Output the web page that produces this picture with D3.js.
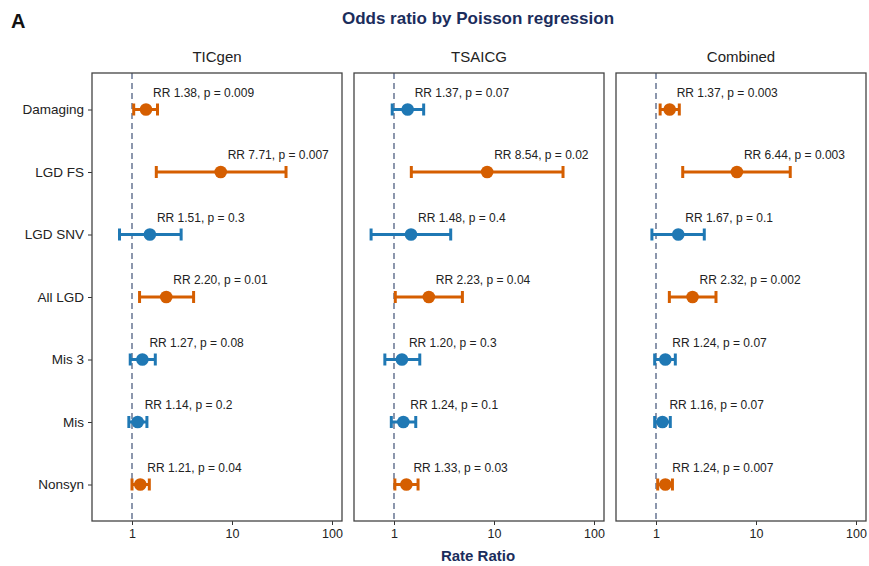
<!DOCTYPE html>
<html>
<head>
<meta charset="utf-8">
<script src="https://cdn.jsdelivr.net/npm/d3@7"></script>
<style>
  html, body { margin: 0; padding: 0; background: #fff; }
  svg { display: block; font-family: "Liberation Sans", Arial, Helvetica, sans-serif; }
</style>
</head>
<body>
<svg id="chart" width="869" height="566"></svg>
<script>
// ---------- data ----------
const categories = ["Damaging", "LGD FS", "LGD SNV", "All LGD", "Mis 3", "Mis", "Nonsyn"];
const panels = ["TICgen", "TSAICG", "Combined"];

const ticgenRR = [1.38, 7.71, 1.51, 2.20, 1.27, 1.14, 1.21];
const ticgenLo = [1.04, 1.75, 0.75, 1.19, 0.96, 0.93, 1.00];
const ticgenHi = [1.80, 34.7, 3.10, 4.13, 1.71, 1.41, 1.49];
const ticgenP  = ["0.009", "0.007", "0.3", "0.01", "0.08", "0.2", "0.04"];

const tsaicgRR = [1.37, 8.54, 1.48, 2.23, 1.20, 1.24, 1.33];
const tsaicgLo = [0.96, 1.49, 0.59, 1.03, 0.81, 0.94, 1.02];
const tsaicgHi = [1.98, 49.0, 3.69, 4.83, 1.81, 1.65, 1.74];
const tsaicgP  = ["0.07", "0.02", "0.4", "0.04", "0.3", "0.1", "0.03"];

const combRR = [1.37, 6.44, 1.67, 2.32, 1.24, 1.16, 1.24];
const combLo = [1.10, 1.85, 0.91, 1.36, 0.97, 0.97, 1.04];
const combHi = [1.71, 22.0, 3.04, 3.98, 1.56, 1.39, 1.46];
const combP  = ["0.003", "0.003", "0.1", "0.002", "0.07", "0.07", "0.007"];

const xTicks = [1, 10, 100];

const panelData = [
  {name: panels[0], rr: ticgenRR, lo: ticgenLo, hi: ticgenHi, p: ticgenP},
  {name: panels[1], rr: tsaicgRR, lo: tsaicgLo, hi: tsaicgHi, p: tsaicgP},
  {name: panels[2], rr: combRR,   lo: combLo,   hi: combHi,   p: combP}
];

// ---------- layout ----------
const ORANGE = "#D55E00";
const BLUE = "#1F78B4";
const NAVY = "#1B2D5C";
const panelLeft = [92, 354, 616];
const panelW = 250;
const plotTop = 73, plotBottom = 521;

const svg = d3.select("#chart");

svg.append("text").attr("x", 11).attr("y", 28)
  .attr("font-size", 20).attr("font-weight", "bold").attr("fill", "#111").text("A");

svg.append("text").attr("x", 478).attr("y", 24).attr("text-anchor", "middle")
  .attr("font-size", 17).attr("font-weight", "bold").attr("fill", NAVY)
  .text("Odds ratio by Poisson regression");

svg.append("text").attr("x", 478).attr("y", 561).attr("text-anchor", "middle")
  .attr("font-size", 15).attr("font-weight", "bold").attr("fill", NAVY)
  .text("Rate Ratio");

const y = d3.scalePoint().domain(categories).range([plotTop, plotBottom]).padding(0.584);

panelData.forEach((pd, pi) => {
  const left = panelLeft[pi];
  const x = d3.scaleLog().domain([Math.pow(10, -0.4), Math.pow(10, 2.1)]).range([left, left + panelW]);
  const g = svg.append("g");

  // strip label
  g.append("text").attr("x", left + panelW / 2).attr("y", 62).attr("text-anchor", "middle")
    .attr("font-size", 15).attr("fill", "#222").text(pd.name);

  // reference line
  g.append("line").attr("x1", x(1)).attr("x2", x(1)).attr("y1", plotTop).attr("y2", plotBottom)
    .attr("stroke", "#5C6B8A").attr("stroke-width", 1.4).attr("stroke-dasharray", "6,4");

  // x axis
  const xa = g.append("g").attr("transform", `translate(0,${plotBottom})`)
    .call(d3.axisBottom(x).tickValues(xTicks).tickFormat(d3.format("d")).tickSize(4).tickPadding(4));
  xa.select(".domain").remove();
  xa.selectAll("line").attr("stroke", "#333");
  xa.selectAll("text").attr("font-size", 12.5).attr("fill", "#222")
    .attr("font-family", "'Liberation Sans', Arial, sans-serif");

  // y axis (only first panel labels)
  if (pi === 0) {
    const ya = g.append("g").attr("transform", `translate(${left},0)`)
      .call(d3.axisLeft(y).tickSize(4).tickPadding(4));
    ya.select(".domain").remove();
    ya.selectAll("line").attr("stroke", "#333");
    ya.selectAll("text").attr("font-size", 13.5).attr("fill", "#222")
      .attr("font-family", "'Liberation Sans', Arial, sans-serif");
  }

  const rows = categories.map((c, i) => ({
    cat: c, rr: pd.rr[i], lo: pd.lo[i], hi: pd.hi[i], p: pd.p[i],
    col: parseFloat(pd.p[i]) < 0.05 ? ORANGE : BLUE
  }));

  const row = g.selectAll("g.row").data(rows).enter().append("g").attr("class", "row");
  row.append("line").attr("x1", d => x(d.lo)).attr("x2", d => x(d.hi))
    .attr("y1", d => y(d.cat)).attr("y2", d => y(d.cat))
    .attr("stroke", d => d.col).attr("stroke-width", 3);
  row.append("line").attr("x1", d => x(d.lo)).attr("x2", d => x(d.lo))
    .attr("y1", d => y(d.cat) - 6).attr("y2", d => y(d.cat) + 6)
    .attr("stroke", d => d.col).attr("stroke-width", 3);
  row.append("line").attr("x1", d => x(d.hi)).attr("x2", d => x(d.hi))
    .attr("y1", d => y(d.cat) - 6).attr("y2", d => y(d.cat) + 6)
    .attr("stroke", d => d.col).attr("stroke-width", 3);
  row.append("circle").attr("cx", d => x(d.rr)).attr("cy", d => y(d.cat)).attr("r", 6.3)
    .attr("fill", d => d.col);
  row.append("text").attr("x", d => x(d.rr) + 7).attr("y", d => y(d.cat) - 13)
    .attr("font-size", 12).attr("fill", "#222")
    .text(d => `RR ${d.rr.toFixed(2)}, p = ${d.p}`);

  // panel border
  g.append("rect").attr("x", left).attr("y", plotTop).attr("width", panelW).attr("height", plotBottom - plotTop)
    .attr("fill", "none").attr("stroke", "#444").attr("stroke-width", 1.3);
});
</script>
</body>
</html>
